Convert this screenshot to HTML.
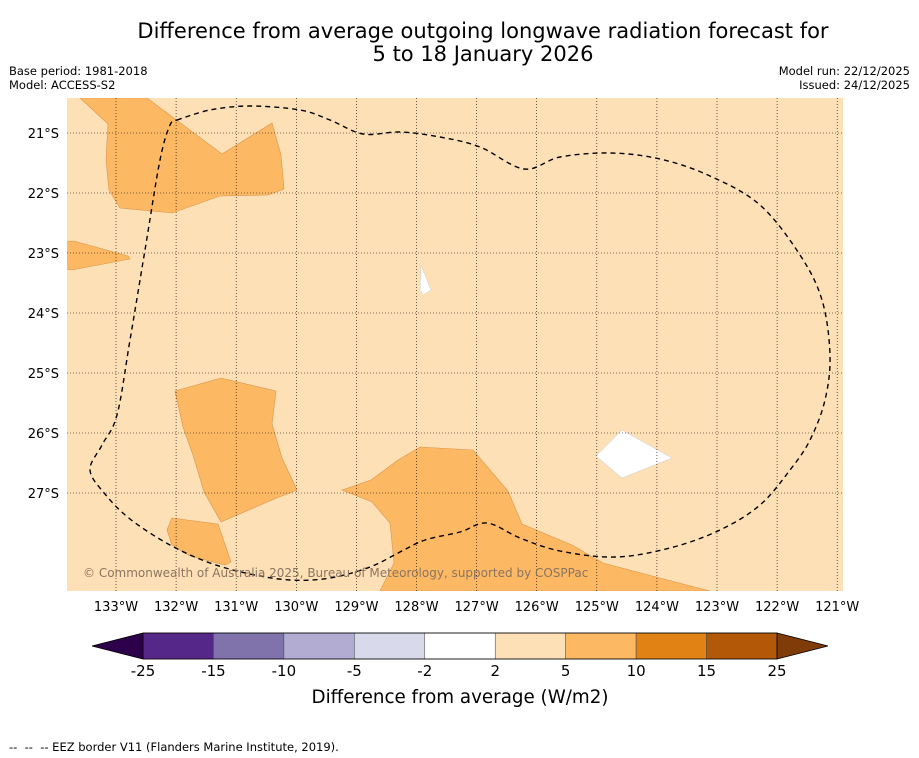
<!DOCTYPE html>
<html><head><meta charset="utf-8">
<style>
body{margin:0;background:#fff;width:919px;height:758px;overflow:hidden;font-family:"Liberation Sans","DejaVu Sans",sans-serif;}
svg{display:block}
</style></head>
<body>
<svg id="chart" width="919" height="758" xmlns="http://www.w3.org/2000/svg" font-family="DejaVu Sans, Liberation Sans, sans-serif">
  <text x="483" y="38" font-size="21" text-anchor="middle">Difference from average outgoing longwave radiation forecast for</text>
  <text x="483" y="61" font-size="21" text-anchor="middle">5 to 18 January 2026</text>
  <text x="9" y="75" font-size="11.5">Base period: 1981-2018</text>
  <text x="9" y="89" font-size="11.5">Model: ACCESS-S2</text>
  <text x="910" y="75" font-size="11.5" text-anchor="end">Model run: 22/12/2025</text>
  <text x="910" y="89" font-size="11.5" text-anchor="end">Issued: 24/12/2025</text>
  <defs><clipPath id="mapclip"><rect x="67" y="98" width="776" height="493"/></clipPath></defs>
  <g id="map" clip-path="url(#mapclip)">
    <rect x="67" y="98" width="776" height="493" fill="#fee0b6"/>
  </g>
  <g id="axes"></g>
  <g id="cbar"></g>
  <text x="460" y="703" font-size="18.3" text-anchor="middle">Difference from average (W/m2)</text>
  <text x="9" y="751" font-size="11.5" xml:space="preserve" style="white-space:pre">--  --  -- EEZ border V11 (Flanders Marine Institute, 2019).</text>
</svg>
<script>
const lonTicks=[-133,-132,-131,-130,-129,-128,-127,-126,-125,-124,-123,-122,-121];
const latTicks=[-21,-22,-23,-24,-25,-26,-27];
const levels=[-25,-15,-10,-5,-2,2,5,10,15,25];
const levelColors=["#542788","#8073ac","#b2abd2","#d8daeb","#ffffff","#fee0b6","#fdb863","#e08214","#b35806"];
const lowColor="#2d004b", highColor="#7f3b08";
function P(pts){return pts.map(p=>[-133+(p[0]-116)/60.1, -(21+(p[1]-133)/60)]);}
const patchesHigh=[
 P([[80,98],[147,98],[222,154],[272,123],[281,155],[284,189],[268,195],[220,196],[172,213],[120,208],[109,190],[106,160],[108,124],[80,98]]),
 P([[60,242],[74,241],[128,256],[130,259],[72,270],[60,268]]),
 P([[175,391],[221,378],[276,391],[272,424],[282,458],[297,490],[272,500],[221,522],[204,492],[193,455],[183,427]]),
 P([[172,518],[218,524],[231,562],[225,565],[190,556],[172,545],[167,530]]),
 P([[342,490],[371,480],[398,460],[420,447],[473,450],[508,491],[522,524],[572,545],[603,563],[660,578],[710,591],[380,591],[394,563],[390,523],[372,502]])
];
const patchesWhite=[
 P([[421,265],[431,290],[423,295],[420,290]]),
 P([[596,456],[622,430],[672,458],[622,478]])
];
const eez=P([[177,120],[210,110],[250,106],[300,110],[330,120],[363,134],[400,132],[440,137],[480,147],[524,169],[560,157],[610,153],[660,159],[710,176],[760,205],[800,255],[822,300],[830,355],[825,400],[810,440],[790,470],[760,505],[720,530],[670,548],[615,557],[560,551],[520,538],[487,523],[460,532],[425,540],[400,552],[370,567],[330,578],[290,580],[250,574],[210,563],[170,545],[130,519],[105,494],[90,470],[102,445],[117,415],[130,340],[145,250],[160,160],[170,125],[177,120]]);

const NS="http://www.w3.org/2000/svg";
const xS=lon=>116+(lon+133)*60.1;
const yS=lat=>133+(-lat-21)*60;
function mk(tag,attrs,parent){const e=document.createElementNS(NS,tag);for(const k in attrs)e.setAttribute(k,attrs[k]);parent.appendChild(e);return e;}
const map=document.getElementById('map');
const ptsStr=a=>a.map(p=>xS(p[0]).toFixed(1)+','+yS(p[1]).toFixed(1)).join(' ');
function smoothPath(a){const q=a.map(p=>[xS(p[0]),yS(p[1])]);let d='M'+q[0][0]+','+q[0][1];
for(let i=0;i<q.length-1;i++){const p0=q[Math.max(0,i-1)],p1=q[i],p2=q[i+1],p3=q[Math.min(q.length-1,i+2)];
const c1=[p1[0]+(p2[0]-p0[0])/6,p1[1]+(p2[1]-p0[1])/6],c2=[p2[0]-(p3[0]-p1[0])/6,p2[1]-(p3[1]-p1[1])/6];
d+=` C${c1[0].toFixed(1)},${c1[1].toFixed(1)} ${c2[0].toFixed(1)},${c2[1].toFixed(1)} ${p2[0].toFixed(1)},${p2[1].toFixed(1)}`;}return d;}
patchesHigh.forEach(pp=>{const e=mk('polygon',{points:ptsStr(pp),fill:levelColors[6],stroke:'#d9964a','stroke-width':0.6},map);

});
patchesWhite.forEach(pp=>{const e=mk('polygon',{points:ptsStr(pp),fill:levelColors[4],stroke:'#cccccc','stroke-width':0.5},map);

});
lonTicks.forEach(l=>{const e=mk('line',{x1:xS(l),x2:xS(l),y1:98,y2:591,stroke:'#000','stroke-width':0.6,'stroke-dasharray':'1,2'},map);

});
latTicks.forEach(l=>{const e=mk('line',{x1:67,x2:843,y1:yS(l),y2:yS(l),stroke:'#000','stroke-width':0.6,'stroke-dasharray':'1,2'},map);

});
const eezEl=mk('path',{d:smoothPath(eez),fill:'none',stroke:'#000','stroke-width':1.4,'stroke-dasharray':'5,4'},map);


const cp=mk('text',{x:83,y:577,'font-size':12,fill:'#8a7560'},map);cp.textContent='© Commonwealth of Australia 2025, Bureau of Meteorology, supported by COSPPac';


const axes=document.getElementById('axes');
lonTicks.forEach(l=>{const t=mk('text',{x:xS(l),y:611,'font-size':13,'text-anchor':'middle'},axes);t.textContent=Math.abs(l)+'°W';

});
latTicks.forEach(l=>{const t=mk('text',{x:59,y:yS(l)+5,'font-size':13,'text-anchor':'end'},axes);t.textContent=Math.abs(l)+'°S';

});
const cb=document.getElementById('cbar');
const cx0=143,cx1=777,cy0=633,cy1=659;
const w=(cx1-cx0)/levelColors.length;
const lt=mk('polygon',{points:`${cx0},${cy0} ${cx0},${cy1} 92,646`,fill:lowColor,stroke:'#000','stroke-width':0.8},cb);


const rt=mk('polygon',{points:`${cx1},${cy0} ${cx1},${cy1} 828,646`,fill:highColor,stroke:'#000','stroke-width':0.8},cb);


levelColors.forEach((c,i)=>{const r=mk('rect',{x:cx0+i*w,y:cy0,width:w,height:cy1-cy0,fill:c,stroke:'#444','stroke-width':0.5},cb);

});
mk('rect',{x:cx0,y:cy0,width:cx1-cx0,height:cy1-cy0,fill:'none',stroke:'#000','stroke-width':0.8},cb);
levels.forEach((v,i)=>{const t=mk('text',{x:cx0+i*w,y:676,'font-size':15,'text-anchor':'middle'},cb);t.textContent=v;

});
</script>
</body></html>
